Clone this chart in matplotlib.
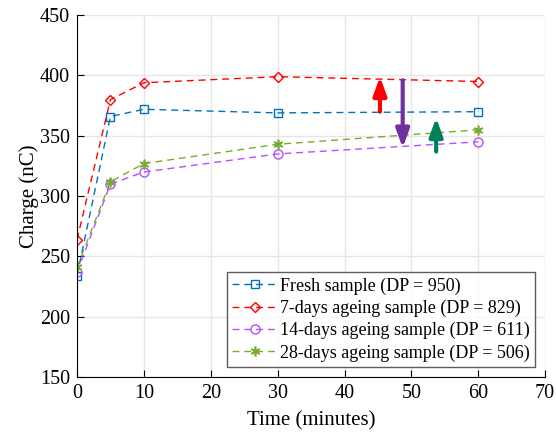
import matplotlib
matplotlib.use("Agg")
import matplotlib.pyplot as plt

plt.rcParams['font.family'] = ['Liberation Serif', 'DejaVu Serif']

# time points (minutes)
time_min = [0, 5, 10, 30, 60]

# charge (nC) per sample
fresh = [234, 366, 372, 369, 370]
days7 = [264, 380, 394, 399, 395]
days14 = [237, 310, 320, 335, 345]
days28 = [241, 312, 327, 343, 355]

labels = ["Fresh sample (DP = 950)",
          "7-days ageing sample (DP = 829)",
          "14-days ageing sample (DP = 611)",
          "28-days ageing sample (DP = 506)"]

# arrows: (x, y_start, y_end)
arrow_red = (45.3, 370, 399)
arrow_purple = (48.7, 396, 340)
arrow_green = (53.7, 337, 365)

fig = plt.figure(figsize=(5.56, 4.33), dpi=100)
ax = fig.add_axes([0.1385, 0.129, 0.842, 0.836])

dash = (5, 3.5)
ax.plot(time_min, fresh, '--s', color='#0072BD', lw=1, ms=5.5, mfc='none', mew=1.0, dashes=dash, label=labels[0])
ax.plot(time_min, days7, '--D', color='#FF0000', lw=1, ms=5.5, mfc='none', mew=1.0, dashes=dash, label=labels[1])
ax.plot(time_min, days14, '--o', color='#B94EFF', lw=1, ms=6.5, mfc='none', mew=1.0, dashes=dash, label=labels[2])
ax.plot(time_min, days28, '--', marker=(6, 2, 0), color='#77AC30', lw=1, ms=7, mew=1.2, dashes=dash, label=labels[3])

for (x, y0, y1), col in [(arrow_red, '#FF0000'), (arrow_purple, '#7030A0'), (arrow_green, '#00805A')]:
    ax.annotate('', xy=(x, y1), xytext=(x, y0),
                arrowprops=dict(arrowstyle='-|>,head_width=0.4,head_length=1.1',
                                color=col, lw=3, shrinkA=0, shrinkB=0))

ax.set_xlim(0, 70)
ax.set_ylim(150, 450)
ax.set_xticks(range(0, 71, 10))
ax.set_yticks(range(150, 451, 50))
ax.grid(True, color='#E6E6E6', lw=1)
ax.set_axisbelow(True)
for s in ['top', 'right']:
    ax.spines[s].set_visible(False)
ax.tick_params(direction='in', labelsize=14.5, length=5, pad=5)
ax.set_xlabel("Time (minutes)", fontsize=15, labelpad=6)
ax.set_ylabel("Charge (nC)", fontsize=15, labelpad=1)

leg = ax.legend(loc='lower right', fontsize=13, frameon=True, fancybox=False,
                edgecolor='#333333', handlelength=2.5, borderpad=0.3,
                labelspacing=0.28, handletextpad=0.15, borderaxespad=0.55)
leg.get_frame().set_linewidth(1)

fig.savefig("out.png", dpi=100)
